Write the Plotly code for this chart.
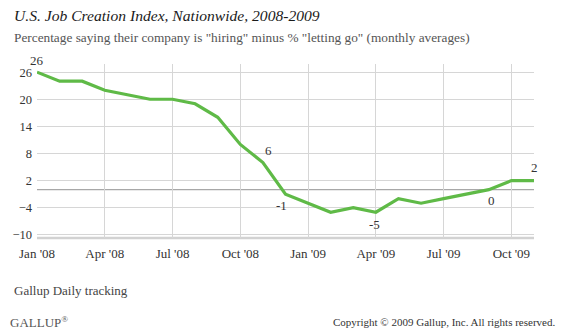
import plotly.graph_objects as go

# Monthly averages, Jan 2008 - Nov 2009
months = ["Jan '08", "Feb '08", "Mar '08", "Apr '08", "May '08", "Jun '08",
          "Jul '08", "Aug '08", "Sep '08", "Oct '08", "Nov '08", "Dec '08",
          "Jan '09", "Feb '09", "Mar '09", "Apr '09", "May '09", "Jun '09",
          "Jul '09", "Aug '09", "Sep '09", "Oct '09", "Nov '09"]
index_values = [26, 24, 24, 22, 21, 20, 20, 19, 16, 10, 6, -1,
                -3, -5, -4, -5, -2, -3, -2, -1, 0, 2, 2]

tick_positions = [0, 3, 6, 9, 12, 15, 18, 21]
tick_labels = [months[i] for i in tick_positions]
y_ticks = [-10, -4, 2, 8, 14, 20, 26]

# labelled points: (month index, x shift, y shift)
labelled = [(0, 0, 12), (10, 6, 12), (11, -4, -11), (15, -1, -12),
            (20, 3, -11), (22, 0, 13)]

W, H = 564, 334
ML, MR, MT, MB = 32, 30, 64, 96
PW, PH = W - ML - MR, H - MT - MB

SERIF = "Liberation Serif"
GREEN = "#5FBA47"


def px(x):
    return (x - ML) / PW


def py(y):
    return (H - MB - y) / PH


x_idx = list(range(len(months)))

fig = go.Figure()
fig.add_trace(go.Scatter(
    x=x_idx, y=index_values, mode="lines",
    line=dict(color=GREEN, width=3.2),
    hoverinfo="skip", showlegend=False,
))

annotations = []
for i, dx, dy in labelled:
    annotations.append(dict(
        x=i, y=index_values[i], xref="x", yref="y",
        text=str(index_values[i]), showarrow=False,
        xshift=dx, yshift=dy,
        font=dict(family=SERIF, size=13, color="#333333"),
    ))

annotations += [
    dict(x=px(7), y=py(15), xref="paper", yref="paper", xanchor="left",
         yanchor="middle", showarrow=False,
         text="<i>U.S. Job Creation Index, Nationwide, 2008-2009</i>",
         font=dict(family=SERIF, size=15.6, color="#1a1a1a")),
    dict(x=px(7), y=py(37), xref="paper", yref="paper", xanchor="left",
         yanchor="middle", showarrow=False,
         text='Percentage saying their company is "hiring" minus % "letting go" (monthly averages)',
         font=dict(family=SERIF, size=13.3, color="#555555")),
    dict(x=px(7), y=py(290), xref="paper", yref="paper", xanchor="left",
         yanchor="middle", showarrow=False, text="Gallup Daily tracking",
         font=dict(family=SERIF, size=13, color="#444444")),
    dict(x=px(3), y=py(322), xref="paper", yref="paper", xanchor="left",
         yanchor="middle", showarrow=False, text="GALLUP<sup>®</sup>",
         font=dict(family=SERIF, size=13, color="#555555")),
    dict(x=px(557), y=py(322), xref="paper", yref="paper", xanchor="right",
         yanchor="middle", showarrow=False,
         text="Copyright © 2009 Gallup, Inc. All rights reserved.",
         font=dict(family=SERIF, size=11, color="#333333")),
]

shapes = [
    # zero reference line
    dict(type="line", xref="paper", yref="y", x0=0, x1=1, y0=0, y1=0,
         line=dict(color="#a8a8a8", width=1.2), layer="below"),
    # bottom baseline
    dict(type="line", xref="paper", yref="paper", x0=0, x1=1, y0=0, y1=0,
         line=dict(color="#d2d2d2", width=2.5), layer="below"),
]

fig.update_layout(
    width=W, height=H,
    margin=dict(l=ML, r=MR, t=MT, b=MB, pad=0),
    paper_bgcolor="white", plot_bgcolor="white",
    annotations=annotations, shapes=shapes,
    xaxis=dict(
        range=[0, 22], tickvals=tick_positions, ticktext=tick_labels,
        showgrid=True, gridcolor="#d6d6d6", gridwidth=1,
        zeroline=False, showline=False, ticks="",
        tickfont=dict(family=SERIF, size=13, color="#333333"),
        ticklabelstandoff=6, fixedrange=True,
    ),
    yaxis=dict(
        range=[-10.7, 27.8], tickvals=y_ticks,
        showgrid=True, gridcolor="#d6d6d6", gridwidth=1,
        zeroline=False, showline=False, ticks="",
        tickfont=dict(family=SERIF, size=12.5, color="#333333"),
        ticklabelstandoff=4, fixedrange=True,
    ),
)

fig.write_html("out.html")
